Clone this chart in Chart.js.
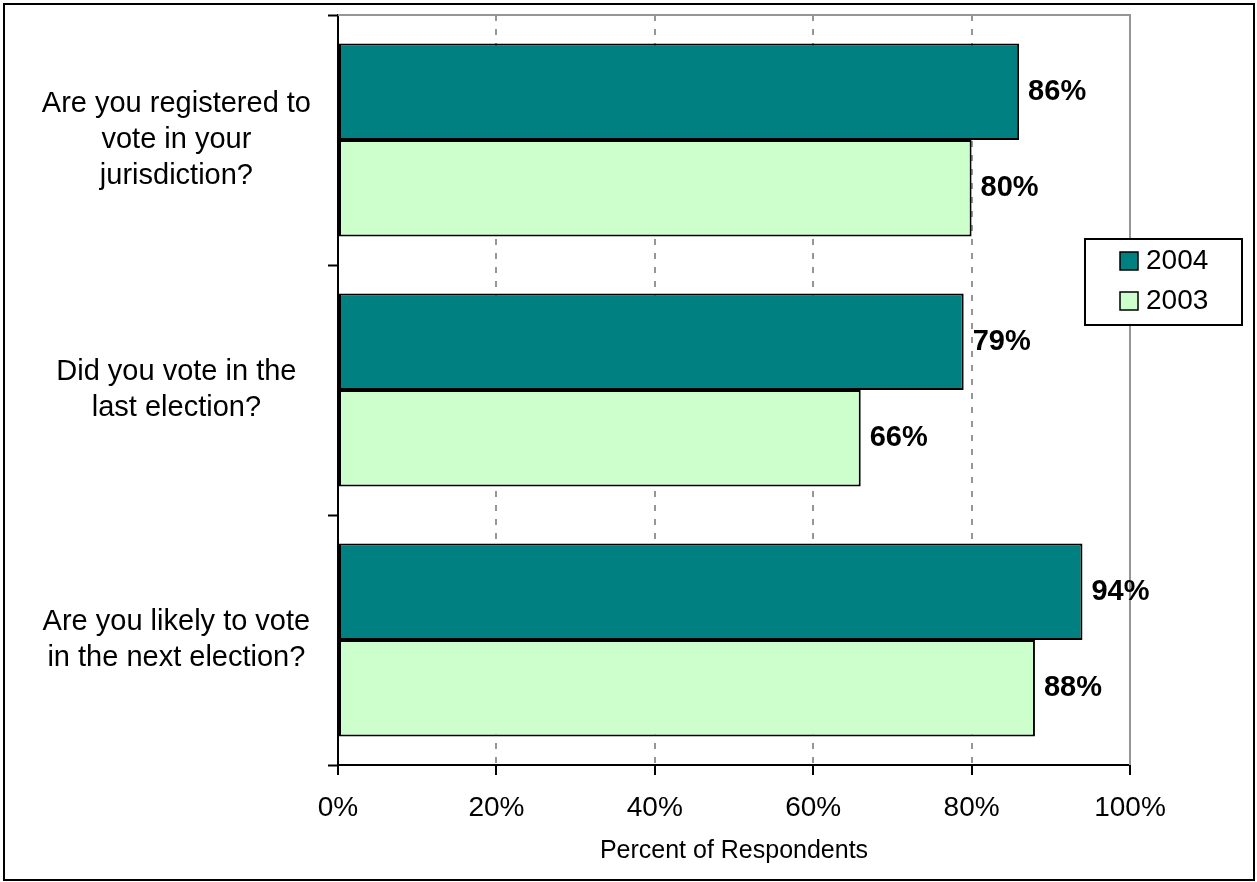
<!DOCTYPE html>
<html>
<head>
<meta charset="utf-8">
<script src="https://cdn.jsdelivr.net/npm/chart.js@4"></script>
<style>
  body { margin: 0; background: #fff; }
  #wrap { width: 1257px; height: 882px; }
</style>
</head>
<body>
<div id="wrap"><canvas id="myChart" width="1257" height="882"></canvas></div>
<script>
// data
const questions = [
    ['Are you registered to', 'vote in your', 'jurisdiction?'],
    ['Did you vote in the', 'last election?'],
    ['Are you likely to vote', 'in the next election?']
];
const values2004 = [86, 79, 94];
const values2003 = [80, 66, 88];
const seriesNames = ['2004', '2003'];
const xTicks = [0, 20, 40, 60, 80, 100];

const FONT = "'Liberation Sans', Arial, sans-serif";

// white page with thin frame round it
const frame = {
    id: 'frame',
    beforeDraw(chart) {
        const ctx = chart.ctx;
        ctx.save();
        ctx.fillStyle = '#fff';
        ctx.fillRect(0, 0, chart.width, chart.height);
        ctx.strokeStyle = '#000';
        ctx.lineWidth = 2;
        ctx.strokeRect(4, 4, 1250, 876);
        ctx.restore();
    },
    beforeDatasetsDraw(chart) {
        // gray top and right edge of the plot area
        const a = chart.chartArea;
        const ctx = chart.ctx;
        ctx.save();
        ctx.strokeStyle = '#969696';
        ctx.lineWidth = 2;
        ctx.beginPath();
        ctx.moveTo(a.left, a.top);
        ctx.lineTo(a.right, a.top);
        ctx.lineTo(a.right, a.bottom);
        ctx.stroke();
        ctx.restore();
    }
};

// bold value labels at the end of each bar
const valueLabels = {
    id: 'valueLabels',
    afterDatasetsDraw(chart) {
        const ctx = chart.ctx;
        ctx.save();
        ctx.font = 'bold 29px ' + FONT;
        ctx.fillStyle = '#000';
        ctx.textAlign = 'left';
        ctx.textBaseline = 'middle';
        chart.data.datasets.forEach((ds, i) => {
            chart.getDatasetMeta(i).data.forEach((bar, j) => {
                ctx.fillText(ds.data[j] + '%', bar.x + 9, bar.y);
            });
        });
        ctx.restore();
    }
};

// boxed legend sitting over the right edge of the plot
const boxLegend = {
    id: 'boxLegend',
    afterDraw(chart) {
        const ctx = chart.ctx;
        ctx.save();
        ctx.fillStyle = '#fff';
        ctx.fillRect(1085, 239, 157, 86);
        ctx.strokeStyle = '#000';
        ctx.lineWidth = 2;
        ctx.strokeRect(1085, 239, 157, 86);
        ctx.font = '28px ' + FONT;
        ctx.textBaseline = 'middle';
        ctx.textAlign = 'left';
        chart.data.datasets.forEach((ds, i) => {
            const y = 261 + i * 40;
            ctx.fillStyle = ds.backgroundColor;
            ctx.fillRect(1120, y - 9, 18, 18);
            ctx.lineWidth = 1.5;
            ctx.strokeStyle = '#000';
            ctx.strokeRect(1120, y - 9, 18, 18);
            ctx.fillStyle = '#000';
            ctx.fillText(ds.label, 1146, y);
        });
        ctx.restore();
    }
};

let ctx = document.getElementById('myChart');
let chart = new Chart(ctx, {
    type: 'bar',
    data: {
        labels: questions,
        datasets: [{
            label: seriesNames[0],
            data: values2004,
            backgroundColor: '#008080',
            borderColor: '#000',
            borderWidth: 2,
            borderSkipped: false,
            categoryPercentage: 0.772,
            barPercentage: 1
        }, {
            label: seriesNames[1],
            data: values2003,
            backgroundColor: '#CCFFCC',
            borderColor: '#000',
            borderWidth: 2,
            borderSkipped: false,
            categoryPercentage: 0.772,
            barPercentage: 1
        }]
    },
    options: {
        indexAxis: 'y',
        responsive: false,
        animation: false,
        layout: { padding: { top: 15, right: 127, left: 0, bottom: 0 } },
        plugins: {
            legend: { display: false },
            tooltip: { enabled: false }
        },
        scales: {
            x: {
                min: 0,
                max: 100,
                afterBuildTicks: (scale) => { scale.ticks = xTicks.map(v => ({ value: v })); },
                afterFit: (scale) => { scale.height = 117; },
                ticks: {
                    callback: (v) => v + '%',
                    color: '#000',
                    font: { family: FONT, size: 28 },
                    padding: 16,
                    maxRotation: 0
                },
                grid: {
                    color: (c) => (c.tick && (c.tick.value === 0 || c.tick.value === 100)) ? 'rgba(0,0,0,0)' : '#969696',
                    lineWidth: 2,
                    tickColor: '#000',
                    tickLength: 10,
                    tickWidth: 2
                },
                border: { color: '#000', width: 2, dash: [6, 8] },
                title: {
                    display: true,
                    text: 'Percent of Respondents',
                    color: '#000',
                    font: { family: FONT, size: 25 },
                    padding: { top: 0, bottom: 16 }
                }
            },
            y: {
                afterFit: (scale) => {
                    scale.width = 338;
                    scale.paddingTop = 0;
                    scale.paddingBottom = 0;
                },
                ticks: {
                    color: '#000',
                    font: { family: FONT, size: 29, lineHeight: 1.24 },
                    crossAlign: 'center',
                    padding: 17
                },
                grid: {
                    drawOnChartArea: false,
                    tickColor: '#000',
                    tickLength: 10,
                    tickWidth: 2
                },
                border: { color: '#000', width: 2 }
            }
        }
    },
    plugins: [frame, valueLabels, boxLegend]
});
</script>
</body>
</html>
